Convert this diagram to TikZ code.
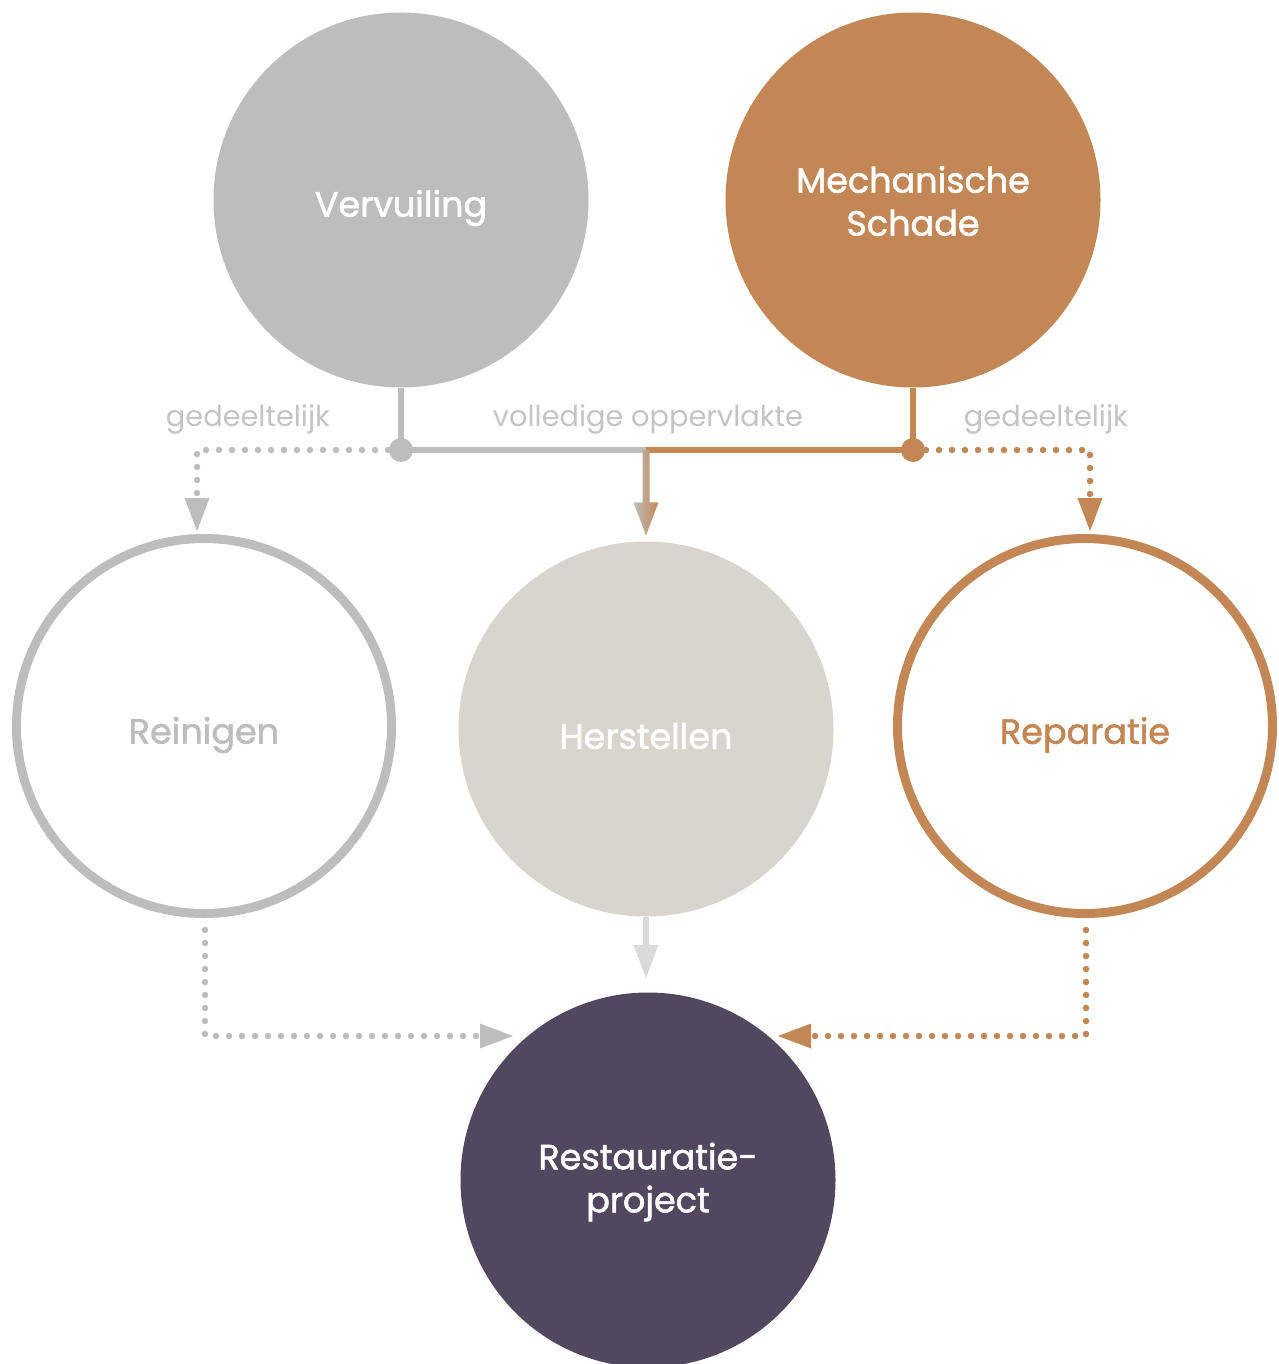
\documentclass[tikz,border=0pt]{standalone}
\usepackage{fontspec}
\setmainfont{Poppins}
\newfontfamily\popm{Poppins}[FakeBold=1.6]
\usetikzlibrary{arrows.meta,calc}
\definecolor{gry}{HTML}{BDBDBD}
\definecolor{org}{HTML}{C38755}
\definecolor{herstc}{HTML}{D8D4CE}
\definecolor{purp}{HTML}{51485F}
\definecolor{lbl}{HTML}{C4C4C4}
\definecolor{harr}{HTML}{DADADA}
\begin{document}
\begin{tikzpicture}[x=1pt,y=-1pt,
  bigc/.style={circle,minimum size=375pt,inner sep=0pt},
  ringc/.style={bigc,draw,line width=9pt},
  ctext/.style={font=\popm\fontsize{35}{43}\selectfont,align=center,inner sep=0pt},
  lab/.style={font=\fontsize{28.8}{32}\selectfont,text=lbl,inner sep=0pt},
  solidln/.style={line width=6pt},
  dotln/.style={line width=6.5pt,dash pattern=on 0pt off 13pt,line cap=round},
  tip/.style={-{Triangle[length=33pt,width=25pt,line width=0pt]}},
  jdot/.style={circle,minimum size=24pt,inner sep=0pt}
]
\useasboundingbox (0,0) rectangle (1278,1364);
% top circles
\node[bigc,fill=gry] (verv) at (401,200) {};
\node[bigc,fill=org] (mech) at (913,200) {};
% middle circles
\node[ringc,draw=gry] (rein) at (204,726) {};
\node[bigc,fill=herstc] (herst) at (646,729) {};
\node[ringc,draw=org] (repa) at (1085,726) {};
% bottom
\node[bigc,fill=purp] (rest) at (648,1180) {};
% circle texts
\node[ctext,text=white] (tverv) at ($(verv.center)+(0,8)$) {Vervuiling};
\node[ctext,text=white] (tmech) at ($(mech.center)+(0,1)$) {Mechanische\\Schade};
\node[ctext,text=gry] (trein) at ($(rein.center)+(0,9)$) {Reinigen};
\node[ctext,text=white] (therst) at ($(herst.center)+(0,7)$) {Herstellen};
\node[ctext,text=org] (trepa) at ($(repa.center)+(0,9)$) {Reparatie};
\node[ctext,text=white] (trest) at ($(rest.center)+(0,2)$) {Restauratie-\\project};
% labels
\node[lab] (l1) at (248,419) {gedeeltelijk};
\node[lab] (l2) at (648,419) {volledige oppervlakte};
\node[lab] (l3) at (1046,419) {gedeeltelijk};
% junctions
\coordinate (jL) at (401,450);
\coordinate (jR) at (913,450);
\coordinate (jM) at (646,450);
\coordinate (cL) at (197,450);
\coordinate (cR) at (1090,450);
\coordinate (tL) at (197,531);
\coordinate (tR) at (1090,531);
\draw[solidln,gry] (verv.south) -- (jL) -- (jM);
\draw[solidln,org] (mech.south) -- (jR) -- (jM);
\node[jdot,fill=gry] (dL) at (jL) {};
\node[jdot,fill=org] (dR) at (jR) {};
% dotted partial branches
\draw[dotln,gry,tip] (jL) -- (cL) -- (tL);
\draw[dotln,org,tip] (jR) -- (cR) -- (tR);
% shaded middle arrow
\shade[left color=gry,right color=org]
  ($(jM)+(-3.5,0)$) -- ($(jM)+(3.5,0)$) -- ($(herst.north)+(3.5,-39)$)
  -- ($(herst.north)+(12.5,-39)$) -- ($(herst.north)+(0,-6)$)
  -- ($(herst.north)+(-12.5,-39)$) -- ($(herst.north)+(-3.5,-39)$) -- cycle;
% herstellen to restauratie
\coordinate (tH) at (646,978);
\draw[solidln,harr,tip] (herst.south) -- (tH);
% bottom dotted
\coordinate (bL) at (205,1036);
\coordinate (bR) at (1086,1036);
\coordinate (eL) at (513,1036);
\coordinate (eR) at (778,1036);
\draw[dotln,gry,tip] ($(rein.south)+(1,12)$) -- (bL) -- (eL);
\draw[dotln,org,tip] ($(repa.south)+(1,12)$) -- (bR) -- (eR);
\end{tikzpicture}
\end{document}
